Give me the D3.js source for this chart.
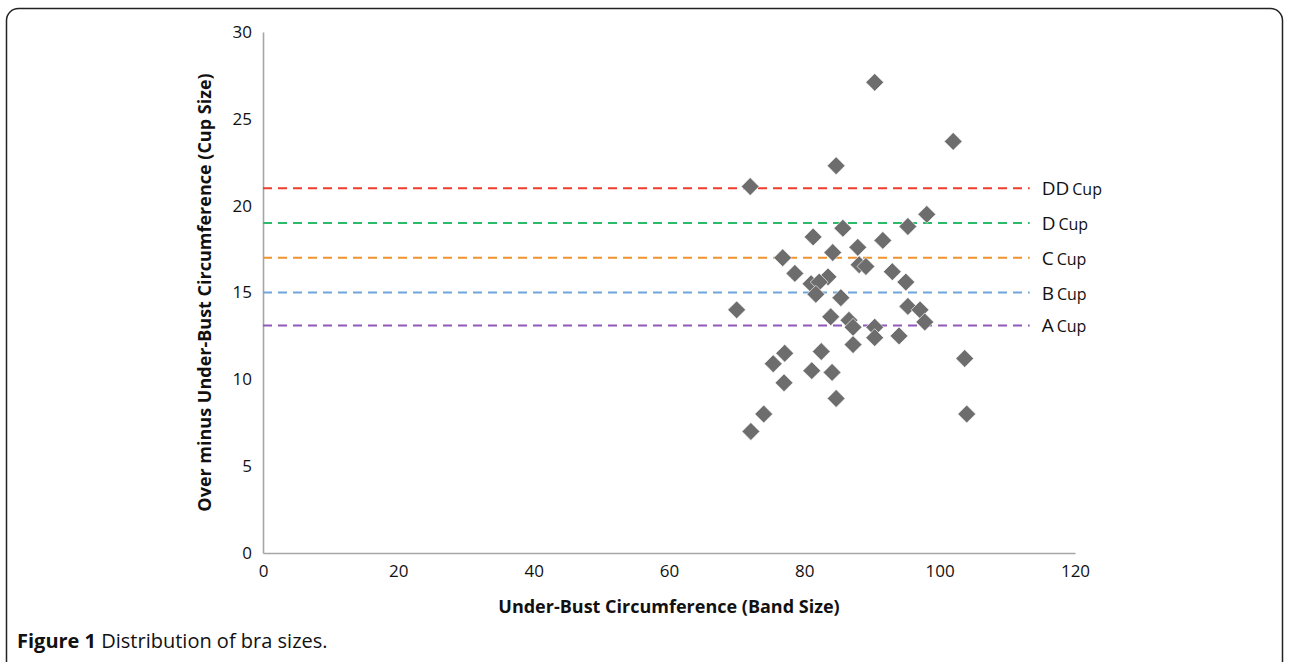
<!DOCTYPE html>
<html>
<head>
<meta charset="utf-8">
<script src="https://cdn.jsdelivr.net/npm/d3@7"></script>
<style>
  body { margin: 0; background: #fff; }
  text { font-family: "Open Sans", "Noto Sans", sans-serif; fill: #111; }
</style>
</head>
<body>
<div id="chart"></div>
<script>
// band size (under-bust) and cup size (over minus under-bust)
var bandSize = [90.4, 102.0, 84.7, 72.0, 98.1, 95.3, 85.7, 81.3, 91.6, 87.9, 84.2, 76.8,
  88.1, 89.1, 93.0, 78.6, 83.5, 95.0, 81.0, 82.2, 81.7, 85.4, 70.0, 95.3, 97.1, 97.8,
  83.9, 86.6, 87.2, 90.4, 90.4, 94.0, 87.2, 77.1, 75.4, 82.5, 81.1, 84.1, 77.0, 84.7,
  74.0, 72.1, 103.7, 104.0];
var cupSize = [27.1, 23.7, 22.3, 21.1, 19.5, 18.8, 18.7, 18.2, 18.0, 17.6, 17.3, 17.0,
  16.6, 16.5, 16.2, 16.1, 15.9, 15.6, 15.5, 15.6, 14.9, 14.7, 14.0, 14.2, 14.0, 13.3,
  13.6, 13.4, 13.0, 13.0, 12.4, 12.5, 12.0, 11.5, 10.9, 11.6, 10.5, 10.4, 9.8, 8.9,
  8.0, 7.0, 11.2, 8.0];

// cup thresholds
var cupNames = ["DD", "D", "C", "B", "A"];
var cupLevels = [21, 19, 17, 15, 13.1];
var cupColors = ["#ee3d2c", "#2dbb6b", "#f0922e", "#6ea6dc", "#9058b8"];

var xTicks = [0, 20, 40, 60, 80, 100, 120];
var yTicks = [0, 5, 10, 15, 20, 25, 30];

var svgWidth = 1289;
var svgHeight = 662;
var margin = { top: 32, left: 263, right: 214, bottom: 109 };
var chartWidth = svgWidth - margin.left - margin.right;
var chartHeight = svgHeight - margin.top - margin.bottom;

var svg = d3.select("#chart").append("svg")
  .attr("width", svgWidth).attr("height", svgHeight);

// figure frame
svg.append("rect")
  .attr("x", 6.5).attr("y", 8.5)
  .attr("width", 1276).attr("height", 700)
  .attr("rx", 12)
  .attr("fill", "none")
  .attr("stroke", "#222")
  .attr("stroke-width", 1.5);

var chartGroup = svg.append("g")
  .attr("transform", `translate(${margin.left},${margin.top})`);

var xScale = d3.scaleLinear().domain([0, 120]).range([0, chartWidth]);
var yScale = d3.scaleLinear().domain([0, 30]).range([chartHeight, 0]);

var bottomAxis = d3.axisBottom(xScale).tickValues(xTicks).tickSize(0).tickPadding(12);
var leftAxis = d3.axisLeft(yScale).tickValues(yTicks).tickSize(0).tickPadding(11);

var xAxis = chartGroup.append("g")
  .attr("transform", `translate(0,${chartHeight})`)
  .call(bottomAxis);
var yAxis = chartGroup.append("g").call(leftAxis);

[xAxis, yAxis].forEach(function(a) {
  a.select(".domain").attr("stroke", "#a6a6a6").attr("stroke-width", 1.6);
  a.selectAll("text")
    .style("font-family", '"Open Sans", sans-serif')
    .style("font-size", "17px")
    .attr("fill", "#111");
});

// cup threshold lines
var cups = cupNames.map(function(n, i) {
  return { name: n, level: cupLevels[i], color: cupColors[i] };
});

chartGroup.selectAll(".cupLine")
  .data(cups)
  .enter()
  .append("line")
  .attr("x1", xScale(0))
  .attr("x2", xScale(113.3))
  .attr("y1", d => yScale(d.level))
  .attr("y2", d => yScale(d.level))
  .attr("stroke", d => d.color)
  .attr("stroke-width", 2)
  .attr("stroke-dasharray", "9,6");

var cupLabels = chartGroup.selectAll(".cupLabel")
  .data(cups)
  .enter()
  .append("text")
  .attr("x", xScale(113.3) + 12)
  .attr("y", d => yScale(d.level) + 7);
cupLabels.append("tspan").style("font-size", "19px").text(d => d.name);
cupLabels.append("tspan").style("font-size", "16px").attr("dx", 3).text("Cup");

// points
var points = bandSize.map(function(b, i) { return { x: b, y: cupSize[i] }; });
chartGroup.selectAll(".pt")
  .data(points)
  .enter()
  .append("path")
  .attr("d", d3.symbol().type(d3.symbolSquare).size(160))
  .attr("transform", d => `translate(${xScale(d.x)},${yScale(d.y)}) rotate(45)`)
  .attr("fill", "#6d6d6d")
  .attr("stroke", "#fff")
  .attr("stroke-width", 0.6);

// axis titles
chartGroup.append("text")
  .attr("x", chartWidth / 2)
  .attr("y", chartHeight + 60)
  .attr("text-anchor", "middle")
  .style("font-size", "18px")
  .style("font-weight", "bold")
  .text("Under-Bust Circumference (Band Size)");

chartGroup.append("text")
  .attr("transform", "rotate(-90)")
  .attr("x", -chartHeight / 2)
  .attr("y", -52)
  .attr("text-anchor", "middle")
  .style("font-size", "18px")
  .style("font-weight", "bold")
  .text("Over minus Under-Bust Circumference (Cup Size)");

// caption
var caption = svg.append("text")
  .attr("x", 17)
  .attr("y", 648)
  .style("font-size", "20px");
caption.append("tspan").style("font-weight", "bold").text("Figure 1");
caption.append("tspan").text(" Distribution of bra sizes.");
</script>
</body>
</html>
